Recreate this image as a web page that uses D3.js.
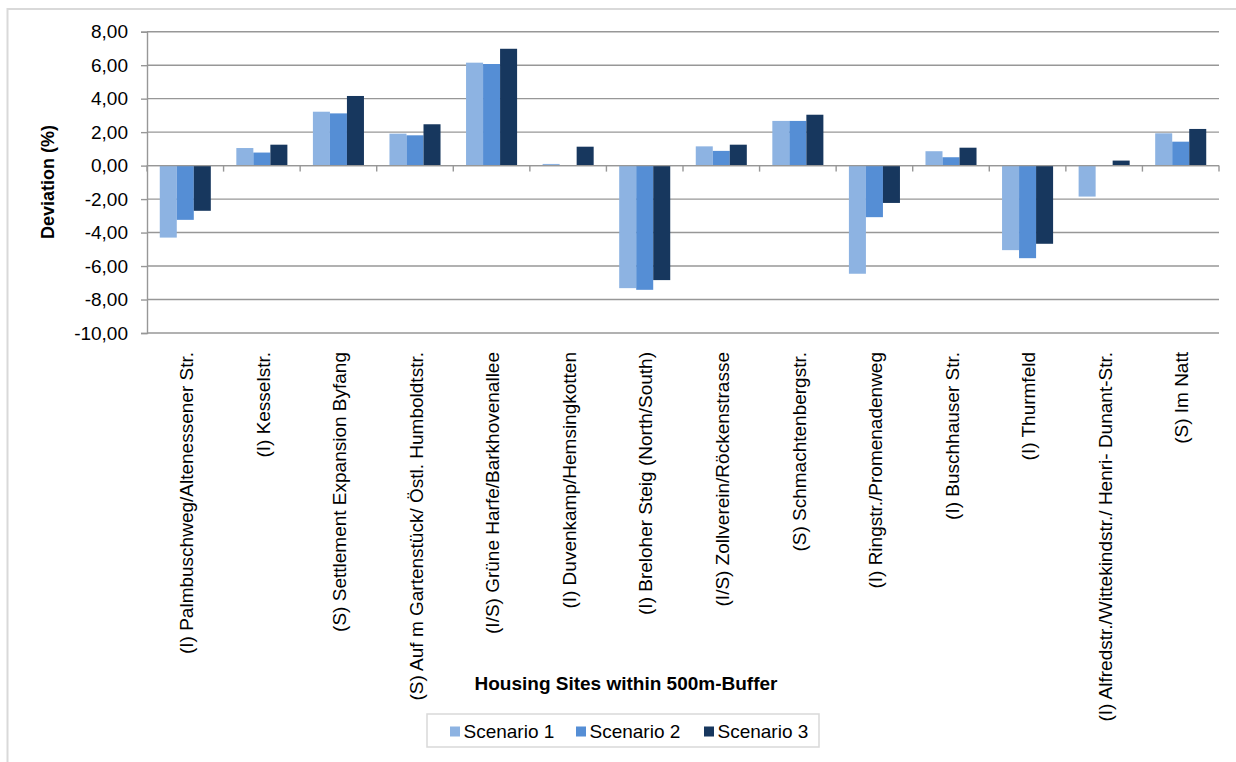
<!DOCTYPE html>
<html>
<head>
<meta charset="utf-8">
<script src="https://cdn.jsdelivr.net/npm/d3@7"></script>
<style>
  body { margin: 0; background: #fff; }
  svg text { font-family: "Liberation Sans", Arial, sans-serif; fill: #000; }
</style>
</head>
<body>
<svg id="chart"></svg>
<script>
// values
var categories = [
  '(I) Palmbuschweg/Altenessener Str.',
  '(I) Kesselstr.',
  '(S) Settlement Expansion Byfang',
  '(S) Auf m Gartenstück/ Östl. Humboldtstr.',
  '(I/S) Grüne Harfe/Barkhovenallee',
  '(I) Duvenkamp/Hemsingkotten',
  '(I) Breloher Steig (North/South)',
  '(I/S) Zollverein/Röckenstrasse',
  '(S) Schmachtenbergstr.',
  '(I) Ringstr./Promenadenweg',
  '(I) Buschhauser Str.',
  '(I) Thurmfeld',
  '(I) Alfredstr./Wittekindstr./ Henri- Dunant-Str.',
  '(S) Im Natt'
];
var seriesNames = ['Scenario 1', 'Scenario 2', 'Scenario 3'];
var scenario1 = [-4.30, 1.05, 3.22, 1.91, 6.15, 0.10, -7.32, 1.15, 2.67, -6.46, 0.86, -5.05, -1.85, 1.93];
var scenario2 = [-3.24, 0.78, 3.12, 1.81, 6.07, 0.00, -7.42, 0.88, 2.67, -3.08, 0.50, -5.53, 0.00, 1.43];
var scenario3 = [-2.70, 1.25, 4.16, 2.47, 6.98, 1.13, -6.84, 1.25, 3.04, -2.23, 1.07, -4.67, 0.30, 2.19];
var yTicks = [-10, -8, -6, -4, -2, 0, 2, 4, 6, 8];

var colors = ['#8db3e2', '#558ed5', '#17375e'];
var width = 1236;
var height = 762;

var svg = d3.select('#chart')
  .attr('width', width)
  .attr('height', height);

// outer chart border (cut off right and bottom in the original)
svg.append('rect')
  .attr('x', 7.5)
  .attr('y', 9)
  .attr('width', width)
  .attr('height', height)
  .style('fill', 'none')
  .style('stroke', '#d9d9d9')
  .style('stroke-width', 2);

var x0 = d3.scaleBand()
  .domain(categories)
  .range([147, 1219])
  .padding(0);

var x1 = d3.scaleBand()
  .domain(seriesNames)
  .range([0, x0.bandwidth()])
  .paddingInner(0)
  .paddingOuter(0.75);

var y = d3.scaleLinear()
  .domain([-10, 8])
  .range([333, 31.7]);

// german style numbers, plain hyphen as minus
var locale = d3.formatLocale({decimal: ',', thousands: '.', grouping: [3], currency: ['', '€'], minus: '-'});
var fmt = locale.format('.2f');

// gridlines
svg.append('g')
  .selectAll('line')
  .data(yTicks)
  .enter().append('line')
    .attr('x1', 147)
    .attr('x2', 1219)
    .attr('y1', function(d) { return y(d); })
    .attr('y2', function(d) { return y(d); })
    .style('stroke', '#979797')
    .style('stroke-width', 1.4);

// y axis
var yAxis = svg.append('g')
  .attr('transform', 'translate(147,0)')
  .call(d3.axisLeft(y).tickValues(yTicks).tickSize(6).tickPadding(13).tickFormat(fmt));
yAxis.select('.domain').style('stroke', '#979797').style('stroke-width', 1.4);
yAxis.selectAll('.tick line').style('stroke', '#979797').style('stroke-width', 1.4);
yAxis.selectAll('.tick text')
  .style('font-size', '19px')
  .style('font-family', '"Liberation Sans", Arial, sans-serif')
  .attr('fill', '#000');

// bars
var seriesData = [scenario1, scenario2, scenario3];
var groups = svg.append('g')
  .selectAll('g')
  .data(categories)
  .enter().append('g')
    .attr('transform', function(d) { return 'translate(' + x0(d) + ',0)'; });

groups.selectAll('rect')
  .data(function(d, i) {
    return seriesNames.map(function(s, j) { return {name: s, value: seriesData[j][i], idx: j}; });
  })
  .enter().append('rect')
    .attr('x', function(d) { return x1(d.name); })
    .attr('width', x1.bandwidth())
    .attr('y', function(d) { return y(Math.max(0, d.value)); })
    .attr('height', function(d) { return Math.abs(y(d.value) - y(0)); })
    .style('fill', function(d) { return colors[d.idx]; });

// x axis at zero with category ticks
var xAxis = svg.append('g')
  .attr('transform', 'translate(0,' + y(0) + ')');
xAxis.append('line')
  .attr('x1', 147)
  .attr('x2', 1219)
  .style('stroke', '#979797')
  .style('stroke-width', 1.4);
xAxis.selectAll('.xtick')
  .data(categories.concat(['end']))
  .enter().append('line')
    .attr('class', 'xtick')
    .attr('x1', function(d, i) { return 147 + i * x0.step(); })
    .attr('x2', function(d, i) { return 147 + i * x0.step(); })
    .attr('y1', 0)
    .attr('y2', 6)
    .style('stroke', '#979797')
    .style('stroke-width', 1.4);

// rotated category labels below the plot
svg.append('g')
  .selectAll('text')
  .data(categories)
  .enter().append('text')
    .attr('transform', function(d) {
      return 'translate(' + (x0(d) + x0.bandwidth() / 2 + 1) + ',352) rotate(-90)';
    })
    .attr('dy', '0.35em')
    .style('text-anchor', 'end')
    .style('font-size', '19px')
    .text(function(d) { return d; });

// axis titles
svg.append('text')
  .attr('transform', 'translate(48,182) rotate(-90)')
  .attr('dy', '0.35em')
  .style('text-anchor', 'middle')
  .style('font-size', '18px')
  .style('font-weight', 'bold')
  .text('Deviation (%)');

svg.append('text')
  .attr('x', 626)
  .attr('y', 690)
  .style('text-anchor', 'middle')
  .style('font-size', '19px')
  .style('font-weight', 'bold')
  .text('Housing Sites within 500m-Buffer');

// legend
var legend = svg.append('g').attr('class', 'legend');
legend.append('rect')
  .attr('x', 427)
  .attr('y', 714)
  .attr('width', 392)
  .attr('height', 33)
  .style('fill', '#fff')
  .style('stroke', '#d9d9d9')
  .style('stroke-width', 1.5);

var legendX = [450, 576, 704];
seriesNames.forEach(function(name, i) {
  legend.append('rect')
    .attr('x', legendX[i])
    .attr('y', 726.5)
    .attr('width', 10)
    .attr('height', 10)
    .style('fill', colors[i]);
  legend.append('text')
    .attr('x', legendX[i] + 13.5)
    .attr('y', 738)
    .style('font-size', '19px')
    .text(name);
});
</script>
</body>
</html>
